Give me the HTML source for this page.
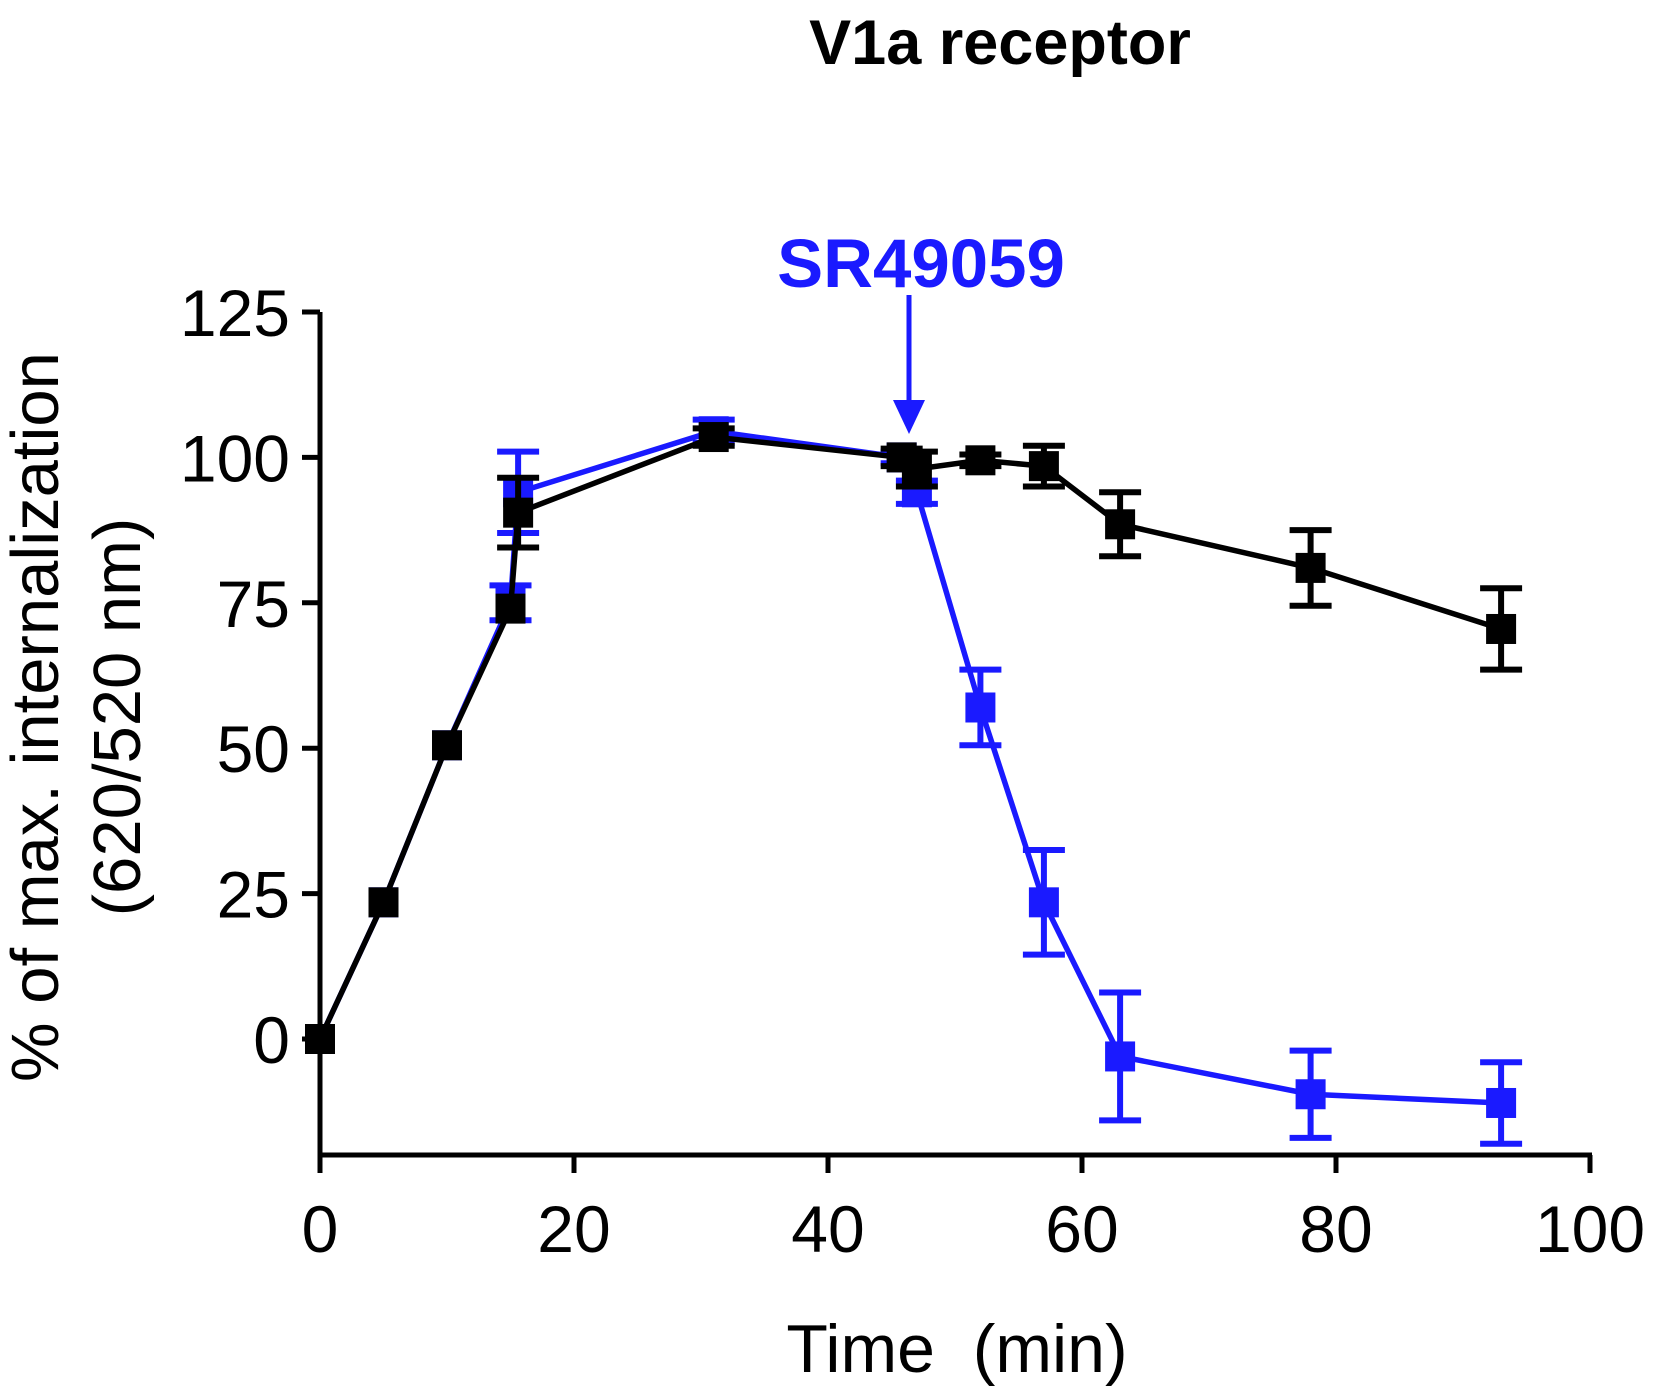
<!DOCTYPE html>
<html><head><meta charset="utf-8"><style>body{margin:0;background:#fff}svg{display:block}text{font-family:"Liberation Sans",Arial,sans-serif}</style></head>
<body>
<svg id="chart" width="1654" height="1393" viewBox="0 0 1654 1393">
<text x="1000" y="64" font-size="63" font-weight="bold" text-anchor="middle">V1a receptor</text>
<g id="axes"></g>
<g id="series"></g>
<text x="957" y="1372" font-size="68" text-anchor="middle">Time&#160; (min)</text>
<text transform="translate(58,717) rotate(-90)" font-size="67" text-anchor="middle">% of max. internalization</text>
<text transform="translate(140,717) rotate(-90)" font-size="67" text-anchor="middle">(620/520 nm)</text>
<text x="921" y="287" font-size="69" font-weight="bold" fill="#1a1aff" text-anchor="middle">SR49059</text>
<line x1="909" y1="295" x2="909" y2="410" stroke="#1a1aff" stroke-width="5"/>
<polygon points="893,400 925,400 909,434" fill="#1a1aff"/>
</svg>
<script>
const xTicks=[0,20,40,60,80,100];
const yTicks=[0,25,50,75,100,125];
const blackX=[0,5,10,15,15.6,31,45.8,47,52,57,63,78,93];
const blackY=[0,23.5,50.5,74,90.5,103.5,100,98,99.5,98.5,88.5,81,70.5];
const blackErr=[0,0,0,0,6,1.5,1.5,3,1,3.5,5.5,6.5,7];
const blueX=[0,5,10,15,15.6,31,45.8,47,52,57,63,78,93];
const blueY=[0,23.5,50.5,75,94,104.5,100,94,57,23.5,-3,-9.5,-11];
const blueErr=[0,0,0,3,7,2,1,2,6.5,9,11,7.5,7];
const X0=320,X1=1590,Y0=1039,Y125=312;
const sx=v=>X0+(X1-X0)*v/100;
const sy=v=>Y0-(Y0-Y125)*v/125;
const NS="http://www.w3.org/2000/svg";
function mk(tag,attrs,parent){const e=document.createElementNS(NS,tag);for(const k in attrs)e.setAttribute(k,attrs[k]);parent.appendChild(e);return e;}
const axes=document.getElementById('axes');
const yAxisBottom=1155;
let a=mk('line',{x1:X0,y1:Y125,x2:X0,y2:yAxisBottom,stroke:'#000','stroke-width':5},axes);


a=mk('line',{x1:X0,y1:yAxisBottom,x2:X1+2,y2:yAxisBottom,stroke:'#000','stroke-width':5},axes);


xTicks.forEach(t=>{
 const x=sx(t);
 const l=mk('line',{x1:x,y1:yAxisBottom,x2:x,y2:yAxisBottom+18,stroke:'#000','stroke-width':5},axes);
 
 
 const tx=mk('text',{x:x,y:1252,'font-size':66,'text-anchor':'middle'},axes);
 tx.textContent=t;
 
 
});
yTicks.forEach(t=>{
 const y=sy(t);
 const l=mk('line',{x1:X0-18,y1:y,x2:X0,y2:y,stroke:'#000','stroke-width':5},axes);
 
 
 const tx=mk('text',{x:290,y:y+24,'font-size':66,'text-anchor':'end'},axes);
 tx.textContent=t;
 
 
});
const ser=document.getElementById('series');
function draw(xs,ys,es,color,name){
 const g=mk('g',{},ser);
 
 
 const p=mk('polyline',{points:xs.map((x,i)=>sx(x)+','+sy(ys[i])).join(' '),fill:'none',stroke:color,'stroke-width':5.5},g);
 
 
 xs.forEach((x,i)=>{
  const cx=sx(x),cy=sy(ys[i]);
  if(es[i]>0){
   const t=sy(ys[i]+es[i]),b=sy(ys[i]-es[i]);
   const eb=mk('path',{d:`M${cx},${t}V${b}M${cx-21},${t}H${cx+21}M${cx-21},${b}H${cx+21}`,stroke:color,'stroke-width':6,fill:'none'},g);
   
   
  }
  const r=mk('rect',{x:cx-15,y:cy-15,width:30,height:30,fill:color},g);
  
  
 });
}
draw(blueX,blueY,blueErr,'#1a1aff','blue');
draw(blackX,blackY,blackErr,'#000','black');
</script>
</body></html>
